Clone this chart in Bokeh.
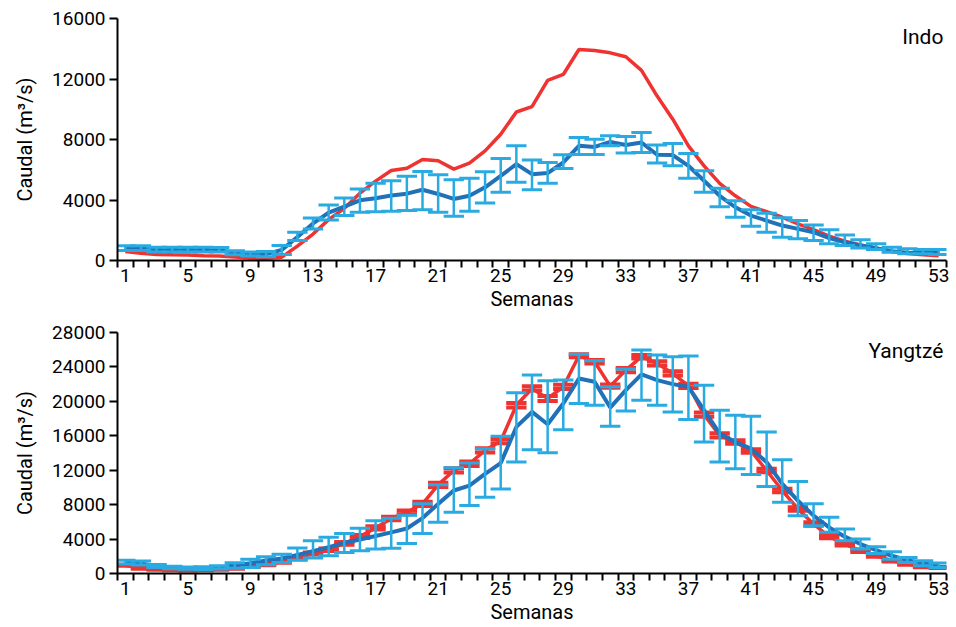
import numpy as np
from bokeh.plotting import figure
from bokeh.layouts import column
from bokeh.models import FixedTicker, Label
from bokeh.embed import file_html
from bokeh.resources import INLINE

weeks = list(range(1, 54))
x_tick_labels = [1, 5, 9, 13, 17, 21, 25, 29, 33, 37, 41, 45, 49, 53]
indo_y_ticks = [0, 4000, 8000, 12000, 16000]
yang_y_ticks = [0, 4000, 8000, 12000, 16000, 20000, 24000, 28000]

# ---- Indo ----
indo_red = [600, 480, 400, 380, 370, 320, 290, 230, 170, 150,
            220, 950, 1750, 2700, 3450, 4450, 5250, 5950, 6100, 6680,
            6590, 6040, 6440, 7250, 8350, 9820, 10170, 11910, 12300, 13950,
            13880, 13730, 13470, 12570, 10870, 9340, 7580, 6260, 5100, 4280,
            3580, 3230, 2860, 2420, 2040, 1610, 1280, 1030, 820, 590,
            460, 380, 310]
indo_blue = [800, 790, 720, 700, 700, 700, 690, 500, 430, 420,
             700, 1550, 2450, 3170, 3560, 3980, 4120, 4300, 4420, 4680,
             4400, 4070, 4280, 4840, 5600, 6370, 5710, 5780, 6480, 7580,
             7510, 7840, 7640, 7800, 6990, 6970, 6260, 5270, 4280, 3520,
             2970, 2640, 2310, 2090, 1870, 1480, 1210, 990, 820, 620,
             510, 490, 490]
indo_blue_low = [660, 660, 570, 570, 570, 570, 570, 380, 300, 240,
                 400, 1320, 2090, 2680, 2970, 3190, 3230, 3260, 3310, 3360,
                 3190, 2930, 3260, 3800, 4510, 5170, 4680, 5100, 6090, 7010,
                 7010, 7580, 7100, 7140, 6440, 6260, 5430, 4510, 3560, 2860,
                 2270, 1870, 1540, 1430, 1320, 1100, 990, 820, 720, 550,
                 440, 440, 400]
indo_blue_high = [970, 970, 880, 880, 880, 880, 860, 640, 560, 600,
                  990, 1870, 2810, 3670, 4130, 4720, 5100, 5270, 5570, 5890,
                  5670, 5340, 5430, 5860, 6750, 7580, 6640, 6480, 6990, 8130,
                  8020, 8240, 8200, 8460, 7640, 7740, 7080, 5930, 4770, 3950,
                  3360, 3120, 2830, 2640, 2350, 2040, 1690, 1380, 1100, 880,
                  770, 720, 720]

# ---- Yangtze ----
yang_red = [950, 620, 500, 430, 420, 430, 500, 620, 820, 1050,
            1360, 1790, 2330, 2760, 3500, 4300, 5300, 6400, 7100, 8100,
            10300, 11970, 12750, 14300, 15390, 19550, 21500, 20330, 21690, 25300,
            24600, 21770, 23630, 25190, 24410, 23240, 21810, 18460, 16050, 15280,
            14230, 11970, 9640, 7500, 5750, 4280, 3420, 2640, 2060, 1480,
            1090, 820, 700]
yang_red_err = [60, 60, 60, 60, 60, 60, 60, 60, 60, 80,
                100, 120, 120, 150, 150, 180, 200, 200, 220, 250,
                250, 250, 250, 250, 250, 250, 250, 300, 250, 180,
                200, 200, 250, 200, 250, 250, 250, 250, 250, 200,
                200, 200, 200, 200, 200, 180, 160, 150, 120, 100,
                80, 80, 60]
yang_blue = [1320, 1180, 850, 680, 600, 600, 700, 950, 1200, 1500,
             1750, 2150, 2600, 3050, 3550, 3950, 4350, 4780, 5230, 6440,
             8090, 9640, 10220, 11580, 12830, 17030, 18770, 17340, 19750, 22660,
             22270, 19280, 21300, 23130, 22470, 22000, 21690, 18970, 16250, 15280,
             14500, 12940, 10420, 8470, 6720, 5360, 4280, 3420, 2720, 2060,
             1550, 1170, 970]
yang_blue_low = [1090, 1000, 700, 550, 480, 470, 520, 600, 700, 1010,
                 1280, 1550, 1790, 2060, 2450, 2640, 2840, 2930, 3500, 4660,
                 5950, 7110, 7890, 8860, 9830, 12940, 14380, 14030, 16710, 19750,
                 19550, 17100, 18890, 20130, 19550, 18770, 17880, 15280, 12940, 12170,
                 11510, 10110, 8280, 6720, 5560, 4780, 3810, 2840, 2330, 1670,
                 1280, 890, 700]
yang_blue_high = [1550, 1450, 1050, 850, 760, 780, 900, 1250, 1670, 1940,
                  2250, 2950, 3810, 4200, 4660, 5250, 6140, 6410, 6780, 8090,
                  10300, 12280, 12830, 14500, 15940, 20990, 23050, 22390, 22470, 25460,
                  24720, 21690, 23750, 25970, 25380, 25190, 25270, 21880, 18970, 18390,
                  18270, 16440, 13220, 10690, 8090, 6530, 5170, 4000, 3110, 2530,
                  1870, 1480, 1210]

RED = "#ee3331"
DARK = "#2170b8"
LIGHT = "#29abe2"
FONT = "Roboto"
CAP = 0.65


def error_bars(p, x, lo, hi, color, width, cap_width):
    x = np.asarray(x, dtype=float)
    lo = np.asarray(lo, dtype=float)
    hi = np.asarray(hi, dtype=float)
    p.segment(x0=x, y0=lo, x1=x, y1=hi, line_color=color, line_width=width)
    p.segment(x0=x - CAP, y0=lo, x1=x + CAP, y1=lo, line_color=color, line_width=cap_width)
    p.segment(x0=x - CAP, y0=hi, x1=x + CAP, y1=hi, line_color=color, line_width=cap_width)


def make_fig(height, top, yticks, title):
    p = figure(width=950, height=height, x_range=(0.5, 53.5), y_range=(yticks[0], yticks[-1]),
               output_backend="svg", toolbar_location=None,
               min_border_left=117, min_border_right=4, min_border_top=top, min_border_bottom=0)
    p.grid.visible = False
    p.outline_line_color = None
    p.background_fill_color = "white"
    p.border_fill_color = "white"

    xa = p.xaxis[0]
    xa.ticker = FixedTicker(ticks=x_tick_labels, minor_ticks=[w - 0.5 for w in weeks] + [53.5])
    xa.major_tick_line_color = None
    xa.major_tick_out = 7
    xa.major_tick_in = 0
    xa.minor_tick_out = 7
    xa.minor_tick_in = 0
    xa.minor_tick_line_width = 2
    xa.minor_tick_line_color = "black"
    xa.axis_line_width = 2
    xa.axis_line_color = "black"
    xa.major_label_standoff = 1
    xa.major_label_text_font = FONT
    xa.major_label_text_font_size = "19px"
    xa.major_label_text_color = "black"
    xa.axis_label = "Semanas"
    xa.axis_label_standoff = 2
    xa.axis_label_text_font = FONT
    xa.axis_label_text_font_size = "20px"
    xa.axis_label_text_font_style = "normal"
    xa.axis_label_text_color = "black"

    ya = p.yaxis[0]
    ya.ticker = FixedTicker(ticks=yticks)
    ya.minor_tick_line_color = None
    ya.major_tick_out = 8
    ya.major_tick_in = 0
    ya.major_tick_line_width = 2
    ya.major_tick_line_color = "black"
    ya.axis_line_width = 2
    ya.axis_line_color = "black"
    ya.major_label_standoff = 4
    ya.major_label_text_font = FONT
    ya.major_label_text_font_size = "19px"
    ya.major_label_text_color = "black"
    ya.axis_label = "Caudal (m³/s)"
    ya.axis_label_standoff = 12
    ya.axis_label_text_font = FONT
    ya.axis_label_text_font_size = "20px"
    ya.axis_label_text_font_style = "normal"
    ya.axis_label_text_color = "black"

    p.add_layout(Label(x=53.3, y=yticks[-1] * 0.925, text=title, text_align="right",
                       text_baseline="middle", text_font=FONT, text_font_size="21px",
                       text_color="black"))
    return p


p1 = make_fig(313, 18, indo_y_ticks, "Indo")
p1.line(weeks, indo_red, line_color=RED, line_width=3.5)
p1.line(weeks, indo_blue, line_color=DARK, line_width=4)
error_bars(p1, weeks, indo_blue_low, indo_blue_high, LIGHT, 2.5, 3)

p2 = make_fig(313, 19, yang_y_ticks, "Yangtzé")
yr = np.asarray(yang_red, dtype=float)
ye = np.asarray(yang_red_err, dtype=float)
p2.line(weeks, yang_red, line_color=RED, line_width=3.5)
error_bars(p2, weeks, yr - ye, yr + ye, RED, 2.5, 4)
p2.line(weeks, yang_blue, line_color=DARK, line_width=4)
error_bars(p2, weeks, yang_blue_low, yang_blue_high, LIGHT, 2.5, 3)

layout = column(p1, p2, spacing=0)
open("out.html", "w").write(file_html(layout, INLINE))
